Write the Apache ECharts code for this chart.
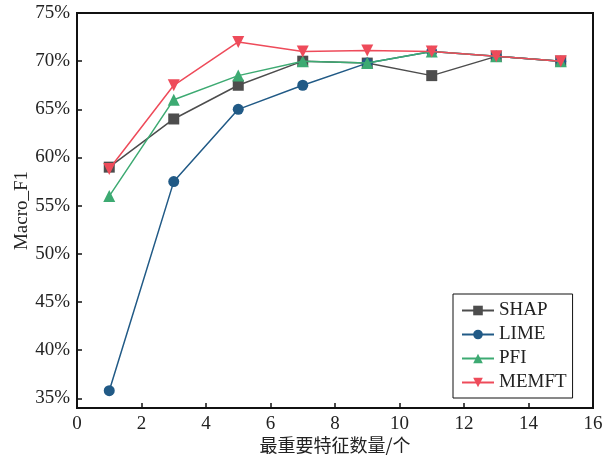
<!DOCTYPE html>
<html><head><meta charset="utf-8">
<script src="https://cdn.jsdelivr.net/npm/echarts@6/dist/echarts.min.js"></script>
<style>html,body{margin:0;padding:0;background:#fff}#c{width:614px;height:460px}</style>
</head><body><div id="c"></div>
<script>
const xValues = [1, 3, 5, 7, 9, 11, 13, 15];
const shap  = [59.0, 64.0, 67.5, 70.0, 69.8, 68.5, 70.5, 70.0];
const lime  = [35.8, 57.5, 65.0, 67.5, 69.8, 71.0, 70.5, 70.0];
const pfi   = [56.0, 66.0, 68.5, 70.0, 69.8, 71.0, 70.5, 70.0];
const memft = [58.8, 67.5, 72.0, 71.0, 71.1, 71.0, 70.5, 70.0];
const yTicks = [35, 40, 45, 50, 55, 60, 65, 70, 75];
const seriesNames = ['SHAP', 'LIME', 'PFI', 'MEMFT'];
const colors = ['#4d4d4d', '#215a86', '#3daa72', '#ee4b5a'];
const symbols = ['rect', 'circle', 'triangle', 'path://M0,0 L10,0 L5,9 Z'];
const symbolSizes = [11, 11, 12, 12];
const allData = [shap, lime, pfi, memft];

const font = '"Liberation Serif", "Times New Roman", serif';
const chart = echarts.init(document.getElementById('c'), null, {renderer: 'canvas'});
chart.setOption({
  animation: false,
  backgroundColor: '#fff',
  grid: {left: 77, right: 21, top: 13, bottom: 52, show: true, borderColor: '#111', borderWidth: 2,
         containLabel: false, outerBoundsMode: 'none'},
  legend: {
    orient: 'vertical', left: 453, top: 294,
    data: seriesNames,
    borderColor: '#111', borderWidth: 1, padding: [7, 6, 6, 8],
    itemWidth: 32, itemHeight: 12, itemGap: 5,
    textStyle: {fontFamily: font, fontSize: 19, color: '#222', lineHeight: 19}
  },
  xAxis: {
    type: 'value', min: 0, max: 16, interval: 2,
    name: '最重要特征数量/个', nameLocation: 'middle', nameGap: 28, nameMoveOverlap: false,
    nameTextStyle: {fontFamily: '"Noto Sans CJK SC", ' + font, fontSize: 18, color: '#222'},
    axisLine: {show: true, lineStyle: {color: '#111', width: 2}},
    axisTick: {show: true, inside: true, length: 5, lineStyle: {color: '#111', width: 1.5}},
    axisLabel: {fontFamily: font, fontSize: 19, color: '#222', margin: 7},
    splitLine: {show: false}
  },
  yAxis: {
    type: 'value', min: 34, max: 75,
    name: 'Macro_F1', nameLocation: 'middle', nameGap: 45, nameMoveOverlap: false,
    nameTextStyle: {fontFamily: font, fontSize: 19, color: '#222'},
    axisLine: {show: true, lineStyle: {color: '#111', width: 2}},
    axisTick: {show: true, inside: true, length: 5, customValues: yTicks, lineStyle: {color: '#111', width: 1.5}},
    axisLabel: {fontFamily: font, fontSize: 19, color: '#222', formatter: '{value}%', margin: 7, customValues: yTicks},
    splitLine: {show: false}
  },
  series: seriesNames.map((n, i) => ({
    name: n, type: 'line',
    data: xValues.map((x, j) => [x, allData[i][j]]),
    symbol: symbols[i], symbolSize: symbolSizes[i],
    showSymbol: true,
    lineStyle: {color: colors[i], width: 1.5},
    itemStyle: {color: colors[i], opacity: 1},
    z: 2 + i
  }))
});
</script></body></html>
